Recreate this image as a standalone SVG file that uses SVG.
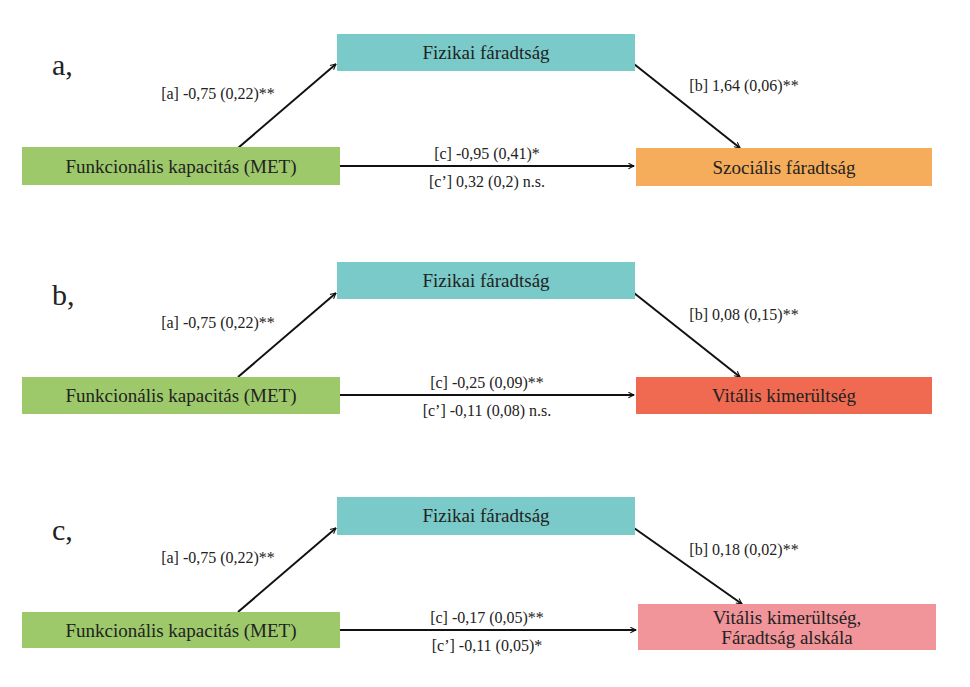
<svg xmlns="http://www.w3.org/2000/svg" width="970" height="687" viewBox="0 0 970 687" font-family="Liberation Serif, serif">
<style>
text{fill:#222;font-family:"Liberation Serif",serif}
.n{font-size:19px;text-anchor:middle;font-family:"Liberation Serif",serif}
.l{font-size:16px;text-anchor:middle;font-family:"Liberation Serif",serif}
.p{font-size:30px}
.c{stroke:#111;stroke-width:2;fill:none;marker-end:url(#ah)}
</style>
<defs><marker id="ah" viewBox="0 0 10 10" refX="9" refY="5" markerWidth="7" markerHeight="7" orient="auto" markerUnits="userSpaceOnUse"><path d="M1,1 L9,5 L1,9" fill="none" stroke="#111" stroke-width="1.5"/></marker></defs>
<rect width="970" height="687" fill="#fff"/>
<text class="p" x="52" y="75">a,</text>
<text class="p" x="52" y="305">b,</text>
<text class="p" x="52" y="540">c,</text>
<g id="connectors">
<path class="c" d="M238,148 L336,64"/><path class="c" d="M634,64 L740,148"/><path class="c" d="M340,166 L634,166"/>
<path class="c" d="M238,377 L336,293"/><path class="c" d="M634,293 L740,377"/><path class="c" d="M340,395 L634,395"/>
<path class="c" d="M238,612 L336,528"/><path class="c" d="M634,528 L742,604"/><path class="c" d="M340,630 L636,630"/>
</g>
<g id="labels">
<text class="l" x="218" y="99">[a] -0,75 (0,22)**</text>
<text class="l" x="744" y="91">[b] 1,64 (0,06)**</text>
<text class="l" x="487" y="159">[c] -0,95 (0,41)*</text>
<text class="l" x="487" y="187">[c’] 0,32 (0,2) n.s.</text>
<text class="l" x="218" y="328">[a] -0,75 (0,22)**</text>
<text class="l" x="744" y="320">[b] 0,08 (0,15)**</text>
<text class="l" x="487" y="388">[c] -0,25 (0,09)**</text>
<text class="l" x="487" y="416">[c’] -0,11 (0,08) n.s.</text>
<text class="l" x="218" y="563">[a] -0,75 (0,22)**</text>
<text class="l" x="744" y="555">[b] 0,18 (0,02)**</text>
<text class="l" x="487" y="623">[c] -0,17 (0,05)**</text>
<text class="l" x="487" y="651">[c’] -0,11 (0,05)*</text>
</g>
<g id="a_med"><rect x="337" y="34" width="298" height="37" fill="#79CAC8"/><text class="n" x="486" y="59">Fizikai fáradtság</text></g>
<g id="a_x"><rect x="22" y="147" width="318" height="38" fill="#9DC96A"/><text class="n" x="181" y="173">Funkcionális kapacitás (MET)</text></g>
<g id="a_y"><rect x="636" y="148" width="296" height="38" fill="#F6AD5B"/><text class="n" x="784" y="174">Szociális fáradtság</text></g>
<g id="b_med"><rect x="337" y="262" width="298" height="37" fill="#79CAC8"/><text class="n" x="486" y="287">Fizikai fáradtság</text></g>
<g id="b_x"><rect x="22" y="377" width="318" height="37" fill="#9DC96A"/><text class="n" x="181" y="402">Funkcionális kapacitás (MET)</text></g>
<g id="b_y"><rect x="636" y="377" width="296" height="37" fill="#EF6A50"/><text class="n" x="784" y="402">Vitális kimerültség</text></g>
<g id="c_med"><rect x="337" y="497" width="298" height="38" fill="#79CAC8"/><text class="n" x="486" y="522">Fizikai fáradtság</text></g>
<g id="c_x"><rect x="22" y="612" width="318" height="36" fill="#9DC96A"/><text class="n" x="181" y="637">Funkcionális kapacitás (MET)</text></g>
<g id="c_y"><rect x="638" y="604" width="298" height="46" fill="#F1959A"/><text class="n" x="787" y="624">Vitális kimerültség,</text><text class="n" x="787" y="644">Fáradtság alskála</text></g>
</svg>
